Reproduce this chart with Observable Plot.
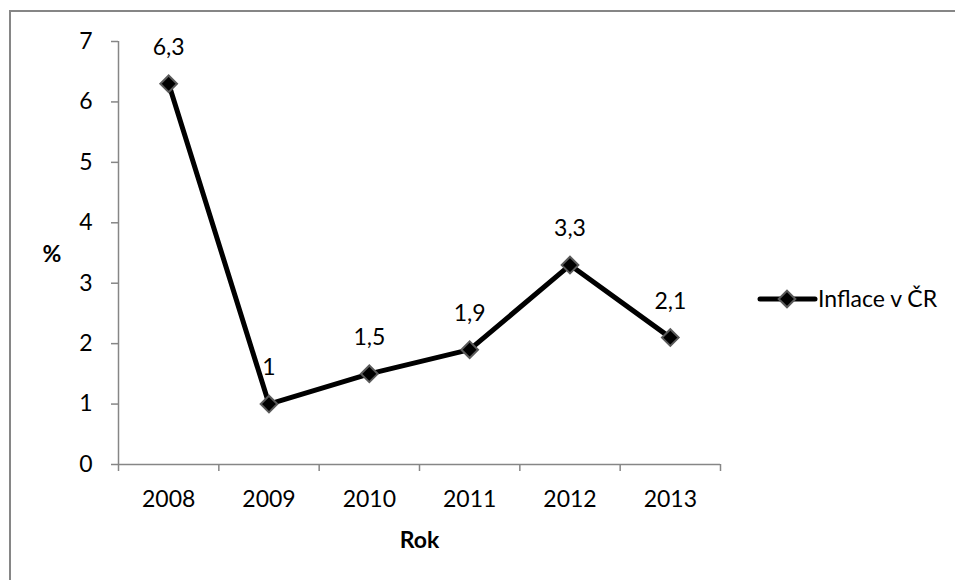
<!DOCTYPE html>
<html>
<head>
<meta charset="utf-8">
<script src="https://cdn.jsdelivr.net/npm/d3@7"></script>
<script src="https://cdn.jsdelivr.net/npm/@observablehq/plot@0.6"></script>
<style>
  body { margin: 0; background: #fff; }
  #wrap { position: relative; width: 955px; height: 580px; overflow: hidden; font-family: Lato, "Open Sans", sans-serif; }
  #frame { position: absolute; left: 9px; top: 10px; width: 1000px; height: 1000px; border: 2px solid #868686; pointer-events: none; }
  #legend { position: absolute; left: 755px; top: 284px; }
</style>
</head>
<body>
<div id="wrap">
  <div id="chart"></div>
  <div id="frame"></div>
  <svg id="legend" width="200" height="30"></svg>
</div>
<script>
// Inflation in the Czech Republic, annual %
const years = ["2008", "2009", "2010", "2011", "2012", "2013"];
const inflation = [6.3, 1.0, 1.5, 1.9, 3.3, 2.1];
const yTicks = [0, 1, 2, 3, 4, 5, 6, 7];
const seriesName = "Inflace v ČR";
const xTitle = "Rok";
const yTitle = "%";

const axisColor = "#868686";
const fontSize = 23;

// each year occupies one unit band; the point sits in the middle of it
const data = years.map((year, i) => ({year, pos: i + 0.5, value: inflation[i]}));
const centers = data.map(d => d.pos);
const boundaries = d3.range(years.length + 1);
const czech = v => String(v).replace(".", ",");

const chart = Plot.plot({
  width: 955,
  height: 580,
  marginTop: 41,
  marginBottom: 116,
  marginLeft: 118,
  marginRight: 235,
  style: {fontFamily: "Lato, 'Open Sans', sans-serif", fontSize: fontSize + "px", color: "#000", background: "transparent"},
  x: {type: "linear", domain: [0, years.length], axis: null},
  y: {domain: [0, 7], axis: null},
  marks: [
    Plot.axisY(yTicks, {tickSize: 7, tickPadding: 19, stroke: axisColor, strokeWidth: 1.5, tickFormat: d => String(d), label: null, fontSize}),
    Plot.axisX(boundaries, {tickSize: 7, stroke: axisColor, strokeWidth: 1.5, tickFormat: () => "", label: null}),
    Plot.axisX(centers, {tickSize: 0, tickPadding: 26, tickFormat: d => years[Math.floor(d)], label: null, fontSize}),
    Plot.ruleX([0], {stroke: axisColor, strokeWidth: 1.5}),
    Plot.ruleY([0], {stroke: axisColor, strokeWidth: 1.5}),
    Plot.line(data, {x: "pos", y: "value", stroke: "#000", strokeWidth: 5, strokeLinejoin: "round"}),
    Plot.dot(data, {x: "pos", y: "value", symbol: "diamond2", r: 7.5, fill: "#000", stroke: "#5a5a5a", strokeWidth: 2}),
    Plot.text(data, {x: "pos", y: "value", text: d => czech(d.value), dy: -36, fontSize}),
    Plot.text([xTitle], {frameAnchor: "bottom", lineAnchor: "middle", dy: 76, fontWeight: "bold", fontSize}),
    Plot.text([yTitle], {frameAnchor: "left", lineAnchor: "middle", dx: -76, dy: 2, fontWeight: "bold", fontSize})
  ]
});
document.getElementById("chart").append(chart);

// series legend
const legend = d3.select("#legend");
legend.append("line")
  .attr("x1", 5).attr("x2", 60).attr("y1", 15).attr("y2", 15)
  .attr("stroke", "#000").attr("stroke-width", 5).attr("stroke-linecap", "round");
legend.append("path")
  .attr("d", d3.symbol(d3.symbolDiamond2, Math.PI * 7.5 * 7.5)())
  .attr("transform", "translate(32,15)")
  .attr("fill", "#000").attr("stroke", "#5a5a5a").attr("stroke-width", 2);
legend.append("text")
  .attr("x", 63).attr("y", 15).attr("dy", "0.35em")
  .attr("font-family", "Lato, 'Open Sans', sans-serif")
  .attr("font-size", fontSize)
  .text(seriesName);
</script>
</body>
</html>
